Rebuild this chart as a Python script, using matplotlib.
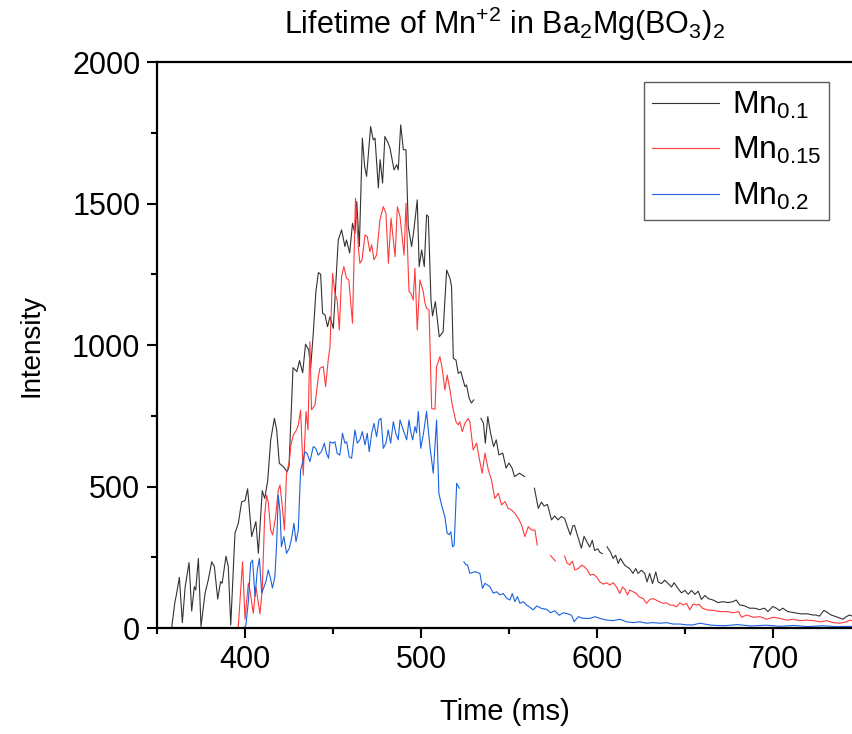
import numpy as np
import matplotlib.pyplot as plt
from matplotlib.ticker import MultipleLocator

nan = np.nan

# Mn0.1 (black)
t1 = [350, 356, 358.3, 360.2, 361, 362.7, 364.4, 366, 368.2, 369.7, 371.2, 372, 373.5, 375, 377.3,
      379.2, 381.1, 382.6, 384.5, 386.1, 387, 389.2, 390.5, 391.9, 394.3, 396.2, 398.1, 400, 401.5,
      403.8, 406.2, 407.6, 409.8, 411.2, 412.9, 414.6, 416.7, 418, 419.5, 421.8, 424, 425, 427.3,
      429.5, 431, 432.8, 434.4, 436.2, 437.3, 438.8, 440.3, 441.7, 443, 444.1, 445.5, 446.9, 448.3,
      450.2, 451.7, 453, 454.9, 456.8, 457.7, 459.5, 461.1, 462.5, 463.5, 465, 466.7, 468, 469.1,
      471.4, 472.9, 473.9, 475.8, 476.8, 478.2, 479.5, 481.4, 482.4, 484.7, 486.2, 487.1, 488.5,
      490, 491.5, 492.8, 494.7, 496, 497.9, 499, 500.4, 501.9, 503.2, 504.2, 505.7, 506.6, 508.2,
      510.4, 512.6, 514.6, 516.5, 517.4, 518.4, 519.9, 521.2, 522.7, 523.7, 525, 525.9, 527.4,
      528.7, 530, 532, 534.1, 535.5, 536.6, 538, 539.6, 541.3, 542.8, 544.3, 546.5, 548.4, 550,
      551.8, 553.2, 556, 558.9, 561.5, 564.5, 566.7, 568.5, 570, 571.9, 574.2, 576, 577.9, 579.8,
      581.7, 583, 584.9, 586.4, 587.3, 589.2, 591.2, 592.7, 594.4, 595.9, 597.4, 598.7, 600.6,
      601.6, 603.1, 604.5, 605.8, 607.9, 609.2, 610.7, 612.1, 613.4, 615.8, 618.6, 620.5, 622.1,
      623.4, 625.3, 627.2, 628.5, 630, 631.6, 633.5, 634.8, 636.7, 638.6, 640.5, 642.4, 643.9,
      646.2, 648.1, 650, 651.9, 653.8, 655.7, 657.6, 659.4, 661.4, 663.3, 666, 668.8, 671.7, 674.5,
      677.3, 679.2, 681.1, 684, 686.8, 689.6, 692.5, 695.3, 697.2, 700, 702, 703.8, 705.7, 708.5,
      712.3, 716, 719.8, 722.7, 724.6, 726.5, 729, 730.3, 733.1, 736, 739.8, 741.7, 743.6, 746]
y1 = [0, 0, 0, 93, 117, 179, 19, 146, 231, 60, 146, 134, 246, 5, 123,
      172, 234, 217, 102, 164, 158, 254, 217, 10, 335, 370, 446, 450, 492,
      323, 376, 264, 485, 458, 520, 664, 741, 700, 582, 570, 552, 570, 920,
      906, 945, 902, 1003, 983, 918, 1041, 1189, 1256, 1250, 1112, 1106, 1065, 1100,
      1059, 1230, 1371, 1407, 1348, 1371, 1325, 1430, 1395, 1507, 1348, 1731, 1631, 1596,
      1772, 1725, 1731, 1555, 1655, 1572, 1737, 1713, 1696, 1619, 1637, 1619, 1778,
      1690, 1690, 1418, 1348, 1407, 1513, 1277, 1336, 1277, 1460, 1454, 1159, 1103, 1153,
      1029, 1047, 1265, 1236, 1206, 953, 947, 900, 906, 883, 853, 859, 812,
      795, 806, nan, 741, 724, 653, 747, 688, 641, 665, 612, 618, 565, 583,
      565, 535, 547, 535, nan, 494, 423, 445, 431, 437, 382, 396, 382, 394,
      387, 362, 329, 362, 362, 322, 282, 324, 304, 286, 310, 274, 280,
      268, 263, nan, 287, 266, 246, 257, 228, 246, 222, 210, 193, 210,
      193, 204, 193, 163, 193, 157, 198, 163, 157, 169, 157, 145, 160,
      139, 124, 133, 119, 133, 119, 130, 101, 115, 104, 99, 90, 93, 90,
      93, 99, 82, 78, 70, 70, 65, 70, 58, 76, 70, 62, 70, 58,
      54, 50, 50, 46, 46, 42, 62, 58, 46, 40, 31, 40, 46, 40]

# Mn0.15 (red)
t2 = [350, 395.5, 396.2, 398.6, 400, 401.9, 402.8, 404.7, 406.2, 408.5, 409.8, 411.2, 412.3, 413.2,
      414.6, 415.7, 417.4, 418.9, 419.9, 421.4, 422.4, 423.6, 425.2, 426.1, 427.5, 429.3, 430.3,
      431.6, 433.1, 434.7, 435.8, 436.9, 437.8, 439.8, 441.7, 442.6, 444.5, 445.8, 447.3, 448.3,
      449.8, 451.1, 452.4, 453.6, 454.9, 456.2, 457.7, 459, 461.1, 462.8, 464.4, 465.3, 466.5,
      468.2, 469.5, 471, 472, 473.3, 474.8, 476.7, 478.6, 480.1, 481.5, 483, 485.3, 486.6, 488.1,
      490.4, 491.5, 493.2, 494.3, 495.6, 496.6, 497.9, 499.4, 501.3, 502.3, 503.2, 504.6, 506.1,
      508, 508.9, 510.8, 512.2, 513.6, 514.9, 516.5, 517.8, 519.9, 521.2, 522.1, 523.5, 525,
      526.9, 527.8, 529.7, 531.6, 533.5, 534.8, 536.4, 538.3, 540.1, 542, 544, 545.8, 547.7,
      549.6, 551.5, 553.4, 555.3, 557.2, 559.1, 561, 562.9, 564.8, 566.1, 570, 573.6, 576.4,
      579, 581.6, 583.1, 584.6, 586.1, 587.5, 589.4, 591.3, 592.7, 594.6, 596.1, 598, 599.8,
      601.7, 603.6, 605.5, 607.4, 609.3, 611.2, 613, 614.6, 615.9, 617.4, 618.7, 620.6, 622.5,
      624, 626.3, 628.2, 630.1, 632, 633.9, 635.8, 637.7, 639.6, 641.5, 643.4, 645.3, 647.2,
      649.1, 651, 652.8, 654.7, 656.6, 658, 660, 662.7, 666.4, 670.2, 674, 677.7, 680.6, 682.2,
      685.2, 689, 692.7, 696.5, 700.3, 704, 707.8, 711.6, 715.4, 719.2, 723, 726.8, 730.5, 734.3,
      738.1, 741.9, 743.8, 746]
y2 = [0, 0, 5, 234, 31, 158, 134, 52, 146, 50, 134, 400, 470, 446,
      346, 329, 393, 488, 505, 417, 346, 547, 588, 647, 683, 700, 718,
      770, 540, 765, 700, 1012, 771, 788, 888, 918, 924, 853, 947, 994,
      1253, 1183, 1159, 1053, 1242, 1277, 1236, 1230, 1077, 1519, 1348, 1289, 1301,
      1389, 1383, 1330, 1354, 1301, 1318, 1442, 1489, 1466, 1289, 1448, 1312, 1489, 1454,
      1318, 1501, 1189, 1183, 1159, 1271, 1053, 1230, 1189, 1147, 1130, 1124, 776,
      773, 924, 959, 912, 841, 894, 841, 788, 729, 718, 729, 694, 724,
      741, 729, 629, 653, 588, 547, 618, 559, 523, 458, 476, 435, 447,
      423, 417, 405, 388, 364, 323, 358, 346, 346, 293, nan, 256, 237,
      nan, 254, 229, 223, 236, 205, 210, 222, 218, 205, 187, 190, 181,
      163, 155, 160, 152, 160, 145, 122, 145, 137, 117, 134, 128, 122,
      110, 104, 87, 101, 104, 98, 92, 87, 89, 81, 81, 75, 89,
      81, 87, 64, 85, 81, 84, 70, 64, 62, 58, 58, 54, 58, 38,
      46, 38, 40, 31, 38, 34, 28, 31, 26, 28, 26, 22, 26, 19,
      17, 22, 28, 24]

# Mn0.2 (blue)
t3 = [350, 399.5, 400.5, 401.9, 403.2, 404.3, 405.7, 407, 408.2, 409.5, 410.5, 411.9, 413.2, 414.5,
      415.6, 417, 418, 418.9, 419.9, 420.7, 422.1, 423.6, 425.2, 426.5, 427.8, 429, 430.3, 431.6,
      433.1, 434, 435.3, 436.9, 438.8, 440.2, 441.6, 443.4, 445.1, 446.3, 447.5, 448.3, 449.8,
      451.1, 452.4, 453.9, 455.4, 456.8, 457.8, 459.2, 460.6, 462.5, 463.8, 465.3, 466.7, 468.2,
      469.5, 470.6, 472, 473.3, 474.8, 476.1, 477.3, 478.6, 480.1, 481.4, 482.8, 484.3, 485.7,
      487.1, 488.1, 489.6, 491.1, 491.9, 493.2, 494.3, 495.3, 496.6, 497.5, 498.5, 499.9, 501.5,
      503.2, 505.1, 507, 508.9, 510.2, 511.7, 513.6, 514.9, 516, 517, 518, 518.9, 520.3, 521.8,
      523, 524.4, 525.6, 526.5, 527.8, 530.7, 533.5, 535, 536.4, 539.2, 541.1, 543, 544.9, 546.8,
      548.7, 550.6, 551.9, 553.4, 554.8, 556.3, 558.2, 560.1, 562, 563.8, 565.8, 568.6, 571.5,
      573.6, 576.1, 578.6, 580.9, 583.7, 585.6, 587.1, 589.4, 592.2, 596, 598.9, 601.7, 605.5,
      609.3, 613.1, 616.8, 620.6, 624.4, 628.2, 632, 635.8, 639.6, 643.4, 647.2, 651, 654.8,
      658.5, 665, 672, 680, 688, 696, 704, 712, 720, 728, 736, 746]
y3 = [0, 0, 10, 93, 229, 240, 111, 205, 246, 123, 140, 164, 205, 176,
      141, 182, 299, 470, 411, 287, 323, 264, 282, 317, 370, 305, 346, 558,
      594, 623, 617, 588, 641, 635, 611, 623, 653, 617, 600, 658, 653,
      658, 617, 611, 688, 653, 658, 605, 600, 700, 653, 665, 694, 647,
      688, 623, 688, 723, 676, 735, 741, 635, 653, 700, 653, 729, 688,
      665, 735, 706, 680, 665, 735, 690, 665, 712, 690, 765, 635, 690,
      765, 641, 547, 735, 476, 435, 393, 335, 330, 340, 287, 293, 511, 494,
      nan, 234, 223, 223, 193, 199, 193, 140, 158, 146, 123, 128, 117, 122,
      105, 99, 122, 93, 111, 87, 93, 81, 73, 64, 78, 69, 66,
      54, 61, 45, 54, 50, 45, 22, 40, 34, 34, 40, 34, 28,
      26, 31, 22, 19, 22, 17, 19, 17, 19, 14, 14, 11, 11,
      17, 10, 8, 12, 7, 10, 6, 9, 5, 8, 5, 6]

labels = ['Mn$_{0.1}$', 'Mn$_{0.15}$', 'Mn$_{0.2}$']
colors = ['#333333', '#ff3b3b', '#1a62e0']

plt.rcParams['font.family'] = 'Liberation Sans'
plt.rcParams['mathtext.fontset'] = 'custom'
plt.rcParams['mathtext.rm'] = 'Liberation Sans'
plt.rcParams['mathtext.it'] = 'Liberation Sans:italic'
plt.rcParams['mathtext.default'] = 'regular'

fig = plt.figure(figsize=(8.52, 7.34), dpi=100)
ax = fig.add_axes([0.1843, 0.1444, 0.8157, 0.7711])

for t, y, c, lab in zip([t1, t2, t3], [y1, y2, y3], colors, labels):
    ax.plot(t, y, color=c, lw=0.8, label=lab)

ax.set_xlim(350, 745)
ax.set_ylim(0, 2000)
ax.xaxis.set_major_locator(MultipleLocator(100))
ax.xaxis.set_minor_locator(MultipleLocator(50))
ax.yaxis.set_major_locator(MultipleLocator(500))
ax.yaxis.set_minor_locator(MultipleLocator(250))
ax.tick_params(which='major', direction='out', length=7, width=1.5, labelsize=22, pad=5)
ax.tick_params(which='minor', direction='out', length=4, width=1.5)
ax.tick_params(top=False, right=False)
ax.spines['right'].set_visible(False)
for s in ['left', 'bottom', 'top']:
    ax.spines[s].set_linewidth(1.6)

ax.set_xlabel('Time (ms)', fontsize=21, labelpad=17)
ax.set_ylabel('Intensity', fontsize=20, labelpad=20)
ax.set_title('Lifetime of Mn$^{+2}$ in Ba$_2$Mg(BO$_3$)$_2$', fontsize=22, pad=20)

leg = ax.legend(loc='upper right', bbox_to_anchor=(0.967, 0.965), fontsize=23, frameon=True,
                fancybox=False, edgecolor='#333333', handlelength=2.1, handletextpad=0.4,
                borderpad=0.25, labelspacing=0.45, borderaxespad=0)
leg.get_frame().set_linewidth(1.0)

fig.savefig('out.png', dpi=100)
